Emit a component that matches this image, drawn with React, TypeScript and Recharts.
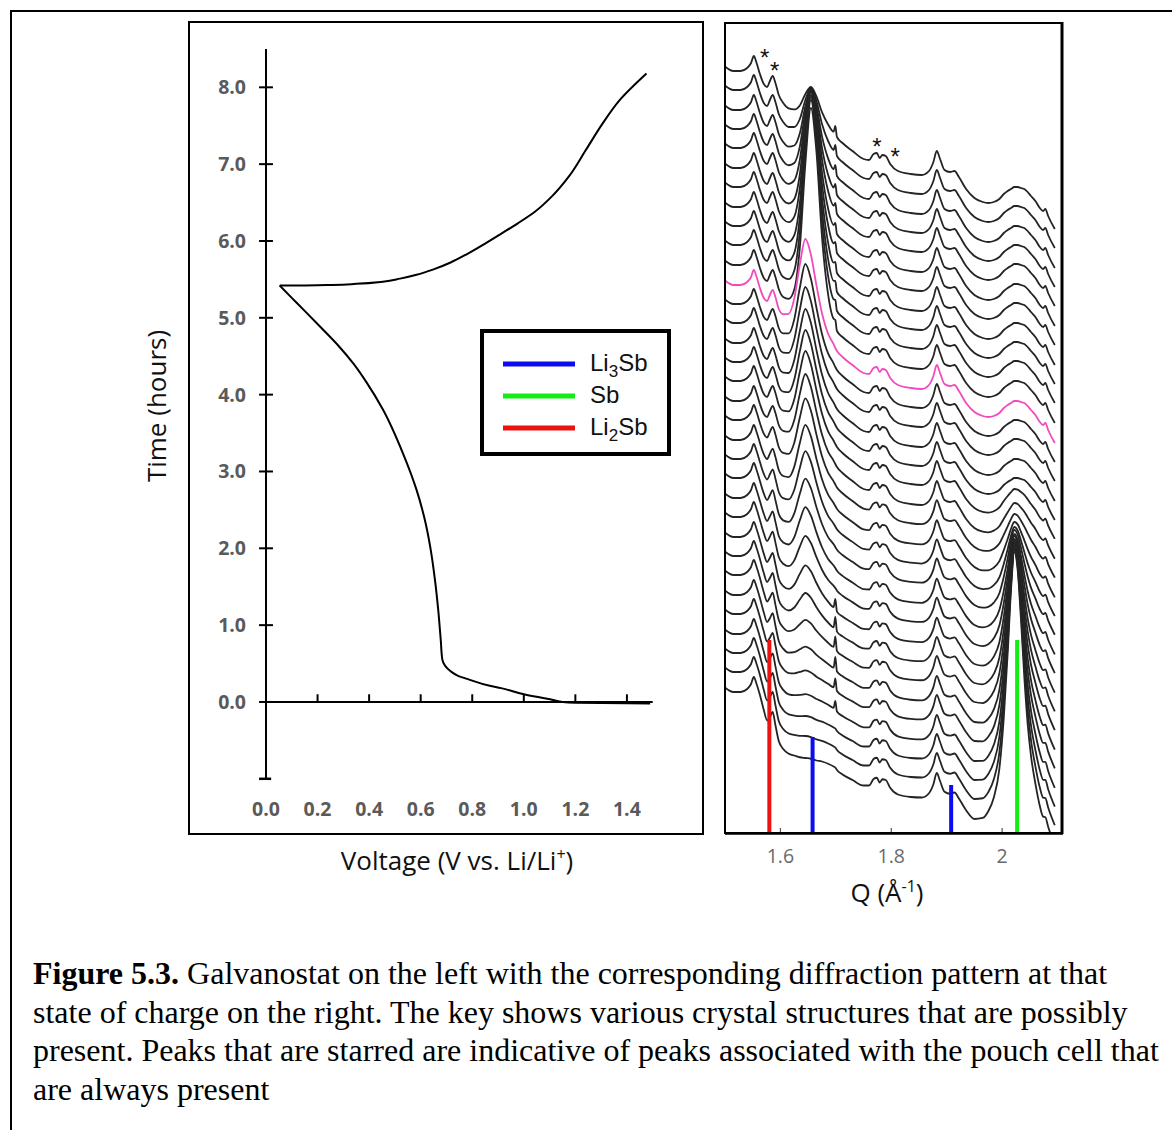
import React from 'react';
import { LineChart, Line, XAxis, YAxis, ReferenceLine, ReferenceDot } from 'recharts';

// ---------------- Left panel : galvanostat (voltage vs time) ----------------
const DISCHARGE_V = [1.49, 1.4, 1.3, 1.2, 1.15, 1.109, 1.043, 1.0, 0.912, 0.868, 0.78, 0.745, 0.716, 0.695, 0.684, 0.678, 0.668, 0.655, 0.638, 0.614, 0.584, 0.532, 0.453, 0.39, 0.34, 0.28, 0.217, 0.15, 0.1, 0.053];
const DISCHARGE_T = [-0.02, -0.018, -0.015, -0.01, 0.0, 0.03, 0.07, 0.1, 0.18, 0.21, 0.3, 0.34, 0.4, 0.47, 0.55, 0.8, 1.2, 1.6, 2.0, 2.4, 2.76, 3.23, 3.81, 4.16, 4.4, 4.64, 4.86, 5.09, 5.26, 5.42];
const CHARGE_V = [0.053, 0.15, 0.256, 0.35, 0.453, 0.52, 0.584, 0.65, 0.716, 0.78, 0.847, 0.91, 0.977, 1.043, 1.109, 1.175, 1.24, 1.306, 1.371, 1.476];
const CHARGE_T = [5.42, 5.421, 5.428, 5.442, 5.47, 5.51, 5.56, 5.63, 5.72, 5.83, 5.96, 6.09, 6.23, 6.38, 6.58, 6.84, 7.18, 7.53, 7.83, 8.18];
const VOLT_TICKS = [0, 0.2, 0.4, 0.6, 0.8, 1.0, 1.2, 1.4];
const VOLT_MARKS = [0.2, 0.4, 0.6, 0.8, 1.0, 1.2, 1.4];
const TIME_TICKS = [0, 1, 2, 3, 4, 5, 6, 7, 8];

// ---------------- Right panel : stacked diffraction patterns ----------------
// Q positions (1/Å) of the points read along each pattern
const Q_GRID = [1.501, 1.515, 1.528, 1.54, 1.547, 1.552, 1.557, 1.563, 1.57, 1.576, 1.581, 1.586, 1.591, 1.597, 1.605, 1.615, 1.625, 1.635, 1.645, 1.655, 1.665, 1.675, 1.686, 1.696, 1.699, 1.702, 1.712, 1.73, 1.75, 1.76, 1.768, 1.774, 1.779, 1.784, 1.79, 1.798, 1.812, 1.835, 1.855, 1.868, 1.876, 1.882, 1.888, 1.896, 1.906, 1.914, 1.922, 1.935, 1.95, 1.965, 1.975, 1.985, 1.995, 2.003, 2.01, 2.016, 2.022, 2.028, 2.034, 2.04, 2.046, 2.052, 2.06, 2.068, 2.074, 2.078, 2.083, 2.095];
// common trace (drop below the left-edge level, pouch-cell peaks, 1.88 peak ...)
const BASE_DROP = [0, 4, 4, 1, -4, -11, -4, 7, 17, 20, 14, 9, 16, 28, 36, 42, 45, 48, 50, 52, 55, 58, 62, 66, 67, 70, 76, 84, 92, 93, 87, 86, 91, 88, 89, 97, 104, 107, 108, 104, 95, 84, 92, 103, 105, 104, 110, 122, 131, 135, 136, 135, 132, 127, 124, 122, 120, 120, 121, 122, 125, 129, 134, 141, 144, 142, 149, 162];
// left-edge intensity level of every pattern, top to bottom
const START = [766, 747, 727, 708, 689, 669, 650, 630, 611, 592, 572, 552, 533, 514, 494, 475, 456, 436, 417, 397, 378, 359, 339, 320, 300, 281, 262, 242, 223, 203, 184, 165, 145];
// broad ~1.65 peak
const BROAD_Q = [1.605, 1.615, 1.625, 1.635, 1.645, 1.655, 1.665, 1.675, 1.686, 1.696];
const BROAD_UPPER = [0, 0.02, 0.08, 0.3, 0.72, 1.0, 0.8, 0.4, 0.14, 0.04];
const BROAD_MID = [0.03, 0.1, 0.3, 0.7, 1.0, 0.85, 0.55, 0.28, 0.1, 0.03];
const BROAD_KIND = [0, 0, 0, 0, 0, 0, 0, 0, 0, 0, 0, 1, 1, 1, 1, 1, 1, 1, 1, 1, 1, 1, 1, 1, 1, 1, 1, 1, 1, 1, 1, 1, 1];
const BROAD_HEIGHT = [32, 50, 69, 88, 107, 125, 143, 160, 177, 193, 205, 92, 86, 82, 80, 78, 76, 73, 70, 66, 61, 55, 48, 40, 32, 25, 18, 12, 8, 5, 3, 2, 0];
// Sb peak near 2.02
const SB_Q = [1.965, 1.975, 1.985, 1.995, 2.003, 2.01, 2.016, 2.022, 2.028, 2.034, 2.04, 2.046, 2.052, 2.06, 2.068, 2.074, 2.078, 2.083, 2.095];
const SB_SHAPE = [0.02, 0.05, 0.1, 0.2, 0.38, 0.62, 0.86, 1.0, 0.93, 0.74, 0.52, 0.35, 0.24, 0.15, 0.09, 0.06, 0.05, 0.04, 0.02];
const SB_HEIGHT = [0, 0, 0, 0, 0, 0, 0, 0, 0, 0, 0, 0, 0, 0, 0, 0, 8, 14, 22, 34, 48, 64, 80, 97, 114, 131, 148, 166, 184, 202, 220, 238, 256];
// extra sag after 1.58 for the lower patterns
const LOW_Q = [1.57, 1.576, 1.581, 1.586, 1.591, 1.597, 1.605, 1.615, 1.625, 1.635, 1.645, 1.655, 1.665, 1.675, 1.686, 1.696, 1.699, 1.702, 1.712, 1.73, 1.75, 1.76, 1.768, 1.774, 1.779, 1.784, 1.79, 1.798, 1.812, 1.835, 1.855, 1.868, 1.876, 1.882, 1.888, 1.896, 1.906, 1.914, 1.922, 1.935];
const LOW_SHAPE = [0.2, 0.5, 0.6, 0.6, 0.85, 1.0, 1.0, 0.95, 0.9, 0.85, 0.8, 0.75, 0.7, 0.62, 0.55, 0.5, 0.5, 0.48, 0.42, 0.32, 0.22, 0.18, 0.16, 0.15, 0.14, 0.13, 0.12, 0.11, 0.1, 0.08, 0.06, 0.05, 0.05, 0.04, 0.04, 0.03, 0.03, 0.02, 0.02, 0.01];
const LOW_AMT = [0, 0, 0, 0, 0, 0, 0, 0, 0, 0, 0, 0, 0, 0, 0, 0, 0, 0, 3, 6, 9, 12, 14, 16, 18, 20, 21, 22, 23, 24, 25, 25, 25];
// sharp small reflection at 1.70
const SPIKE_Q = 1.699;
const SPIKE = [8, 8, 8, 8, 8, 8, 8, 8, 8, 8, 8, 0, 0, 0, 0, 0, 0, 0, 0, 0, 0, 0, 0, 0, 10, 12, 12, 12, 10, 8, 0, 0, 0];
const PINK_INDEX = 11;

const Q_TICKS = [1.6, 1.8, 2.0];
const STAR_Q = [1.5717, 1.5897, 1.7742, 1.8072];
const STAR_V = [781, 768, 692, 682];

const LEGEND_PARTS = [['Li', '3', 'Sb'], ['Sb', '', ''], ['Li', '2', 'Sb']];
const LEGEND_COLORS = ['#0c0cee', '#12ee12', '#ee1111'];
const PHASE_Q = [1.58, 1.658, 1.908, 2.027];
const PHASE_TOP = [193, 96, 48, 193];
const PHASE_KIND = [2, 0, 0, 1];

const CAPTION_LINES = [
  ['Figure 5.3.', ' Galvanostat on the left with the corresponding diffraction pattern at that'],
  ['', 'state of charge on the right. The key shows various crystal structures that are possibly'],
  ['', 'present. Peaks that are starred are indicative of peaks associated with the pouch cell that'],
  ['', 'are always present'],
];

const dischargeData = DISCHARGE_V.map((v, i) => ({ v, t: DISCHARGE_T[i] }));
const chargeData = CHARGE_V.map((v, i) => ({ v, t: CHARGE_T[i] }));

const findIdx = (arr: number[], q: number) => arr.findIndex((a) => Math.abs(a - q) < 1e-6);

const patterns = START.map((s, i) =>
  Q_GRID.map((q, j) => {
    const lo = findIdx(LOW_Q, q);
    const br = findIdx(BROAD_Q, q);
    const sb = findIdx(SB_Q, q);
    const shape = BROAD_KIND[i] === 0 ? BROAD_UPPER : BROAD_MID;
    let v = s - BASE_DROP[j];
    if (lo >= 0) v -= LOW_AMT[i] * LOW_SHAPE[lo];
    if (br >= 0) v += BROAD_HEIGHT[i] * shape[br];
    if (sb >= 0) v += SB_HEIGHT[i] * SB_SHAPE[sb];
    if (Math.abs(q - SPIKE_Q) < 1e-6) v += SPIKE[i];
    return { q, v };
  })
);

const SANS = "'Open Sans', 'DejaVu Sans', sans-serif";

const StarShape = (p: any) => (
  <text x={p.cx} y={p.cy + 13.5} textAnchor="middle" fontSize={24} fontFamily="'Liberation Sans', Arial" fill="#111">
    *
  </text>
);

function LeftChart() {
  return (
    <div style={{ position: 'absolute', left: 0, top: 0 }}>
      <LineChart width={720} height={900} margin={{ top: 48.9, right: 67.3, bottom: 81.2, left: 206 }}>
        <XAxis
          type="number"
          dataKey="v"
          domain={[0, 1.5]}
          ticks={VOLT_TICKS}
          tickFormatter={(x: number) => x.toFixed(1)}
          axisLine={false}
          tickLine={false}
          tickMargin={17.5}
          height={40}
          allowDataOverflow
          tick={{ fill: '#5a5a5a', fontSize: 19.5, fontWeight: 700, fontFamily: SANS }}
        />
        <YAxis
          type="number"
          domain={[-1, 8.5]}
          ticks={TIME_TICKS}
          tickFormatter={(x: number) => x.toFixed(1)}
          axisLine={{ stroke: '#000', strokeWidth: 2 }}
          tickLine={false}
          tickMargin={14}
          width={60}
          allowDataOverflow
          tick={{ fill: '#5a5a5a', fontSize: 19.5, fontWeight: 700, fontFamily: SANS }}
        />
        <ReferenceLine segment={[{ x: 0, y: 0 }, { x: 1.5, y: 0 }]} stroke="#000" strokeWidth={2} ifOverflow="visible" />
        {VOLT_MARKS.map((m) => (
          <ReferenceLine key={'vm' + m} segment={[{ x: m, y: 0 }, { x: m, y: 0.1 }]} stroke="#000" strokeWidth={2} ifOverflow="visible" />
        ))}
        {TIME_TICKS.map((t) => (
          <ReferenceLine key={'tm' + t} segment={[{ x: -0.027, y: t }, { x: 0.027, y: t }]} stroke="#000" strokeWidth={2} ifOverflow="visible" />
        ))}
        <ReferenceLine segment={[{ x: -0.027, y: -1 }, { x: 0.02, y: -1 }]} stroke="#000" strokeWidth={2.5} ifOverflow="visible" />
        <Line data={dischargeData} dataKey="t" type="monotoneY" stroke="#000" strokeWidth={2} dot={false} isAnimationActive={false} />
        <Line data={chargeData} dataKey="t" type="monotoneY" stroke="#000" strokeWidth={2} dot={false} isAnimationActive={false} />
      </LineChart>
    </div>
  );
}

function RightChart() {
  return (
    <div style={{ position: 'absolute', left: 700, top: 0 }}>
      <LineChart width={472} height={900} margin={{ top: 23, right: 110, bottom: 27, left: 25 }}>
        <XAxis
          type="number"
          dataKey="q"
          domain={[1.5, 2.108]}
          ticks={Q_TICKS}
          tickFormatter={(x: number) => (x === 2 ? '2' : x.toFixed(1))}
          axisLine={false}
          tickLine={false}
          tickMargin={10}
          height={40}
          allowDataOverflow
          tick={{ fill: '#6a6a6a', fontSize: 19.5, fontFamily: SANS }}
        />
        <YAxis hide type="number" domain={[0, 810]} allowDataOverflow />
        {patterns.map((d, i) => (
          <Line
            key={'p' + i}
            data={d}
            dataKey="v"
            type="monotone"
            stroke={i === PINK_INDEX ? '#f24bbd' : '#242424'}
            strokeWidth={1.8}
            dot={false}
            isAnimationActive={false}
          />
        ))}
        {PHASE_Q.map((q, k) => (
          <ReferenceLine
            key={'ph' + k}
            segment={[{ x: q, y: 0 }, { x: q, y: PHASE_TOP[k] }]}
            stroke={LEGEND_COLORS[PHASE_KIND[k]]}
            strokeWidth={4}
            ifOverflow="visible"
          />
        ))}
        {Q_TICKS.map((q) => (
          <ReferenceLine key={'qt' + q} segment={[{ x: q, y: 0 }, { x: q, y: 5 }]} stroke="#555" strokeWidth={1.2} ifOverflow="visible" />
        ))}
        {STAR_Q.map((q, k) => (
          <ReferenceDot key={'st' + k} x={q} y={STAR_V[k]} r={0} shape={StarShape} ifOverflow="visible" />
        ))}
      </LineChart>
    </div>
  );
}

function Overlay() {
  return (
    <svg width={1172} height={1130} style={{ position: 'absolute', left: 0, top: 0, pointerEvents: 'none' }}>
      {/* outer figure border */}
      <line x1={10} y1={11} x2={1172} y2={11} stroke="#000" strokeWidth={2} />
      <line x1={11} y1={10} x2={11} y2={1130} stroke="#000" strokeWidth={2} />
      {/* panel frames */}
      <rect x={189} y={22} width={514} height={812} fill="none" stroke="#000" strokeWidth={2} />
      <rect x={725} y={23} width={337} height={810} fill="none" stroke="#000" strokeWidth={2} />
      <line x1={1062} y1={22} x2={1062} y2={834} stroke="#000" strokeWidth={3} />
      <line x1={725} y1={833.5} x2={1063} y2={833.5} stroke="#000" strokeWidth={2.5} />
      {/* axis titles */}
      <text transform="translate(166,406) rotate(-90)" textAnchor="middle" fontSize={26} fontFamily={SANS} fill="#111">
        Time (hours)
      </text>
      <text x={457} y={870} textAnchor="middle" fontSize={26} fontFamily={SANS} fill="#111">
        Voltage (V vs. Li/Li
        <tspan fontSize={16} dy={-10}>+</tspan>
        <tspan dy={10}>)</tspan>
      </text>
      <text x={887} y={902} textAnchor="middle" fontSize={26} fontFamily={SANS} fill="#111">
        Q (Å
        <tspan fontSize={16} dy={-10}>-1</tspan>
        <tspan dy={10}>)</tspan>
      </text>
      {/* legend */}
      <rect x={482} y={331} width={187} height={123} fill="#fff" stroke="#000" strokeWidth={4} />
      {LEGEND_PARTS.map((p, k) => {
        const cy = 364 + k * 32;
        return (
          <g key={'lg' + k}>
            <line x1={503} x2={575} y1={cy} y2={cy} stroke={LEGEND_COLORS[k]} strokeWidth={5} />
            <text x={590} y={cy + 7} fontSize={24} fontFamily="'Liberation Sans', Arial, sans-serif" fill="#111">
              {p[0]}
              {p[1] ? (
                <tspan fontSize={17} dy={6}>
                  {p[1]}
                </tspan>
              ) : null}
              {p[2] ? <tspan dy={-6}>{p[2]}</tspan> : null}
            </text>
          </g>
        );
      })}
      {/* caption */}
      {CAPTION_LINES.map((ln, k) => (
        <text key={'cap' + k} x={33} y={984 + k * 38.5} fontSize={32} fontFamily="'Liberation Serif', 'Times New Roman', serif" fill="#000">
          {ln[0] ? <tspan fontWeight="bold">{ln[0]}</tspan> : null}
          {ln[1]}
        </text>
      ))}
    </svg>
  );
}

export default function App() {
  return (
    <div style={{ position: 'absolute', left: 0, top: 0, width: 1172, height: 1130, background: '#fff', overflow: 'hidden' }}>
      <LeftChart />
      <RightChart />
      <Overlay />
    </div>
  );
}
